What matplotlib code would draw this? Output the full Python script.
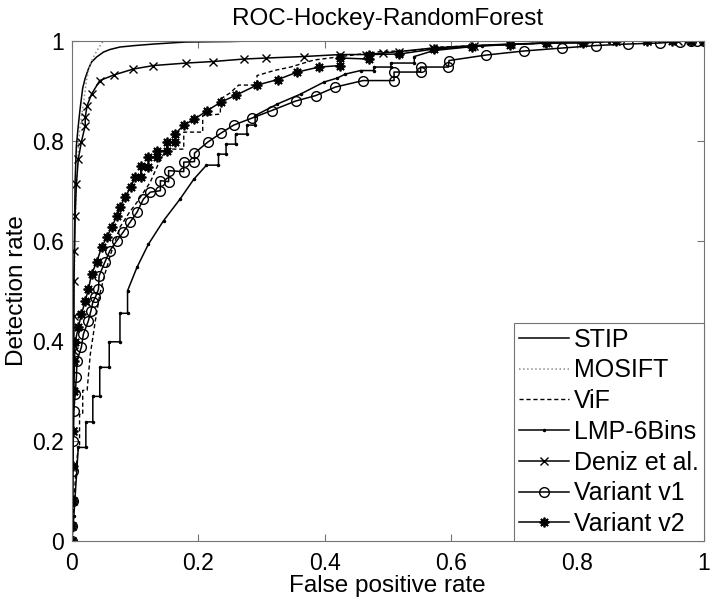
import numpy as np
import matplotlib
matplotlib.use('Agg')
import matplotlib.pyplot as plt
from matplotlib.ticker import FuncFormatter

plt.rcParams['font.family'] = ['Liberation Sans', 'DejaVu Sans']

# ROC curves (false positive rate, detection rate)
stip_fpr = [0, 0.001, 0.002, 0.003, 0.004, 0.005, 0.007, 0.010, 0.013, 0.017, 0.021, 0.026,
            0.031, 0.039, 0.050, 0.060, 0.076, 0.100, 0.130, 0.180, 0.250, 0.320, 0.400, 0.550, 0.700, 1.0]
stip_tpr = [0, 0.15, 0.35, 0.50, 0.62, 0.72, 0.79, 0.83, 0.865, 0.905, 0.925, 0.943,
            0.957, 0.967, 0.977, 0.982, 0.987, 0.990, 0.993, 0.997, 0.998, 1.0, 1.0, 1.0, 1.0, 1.0]

mosift_fpr = [0, 0.002, 0.004, 0.006, 0.009, 0.012, 0.018, 0.023, 0.028, 0.034, 0.042, 0.050, 1.0]
mosift_tpr = [0, 0.30, 0.55, 0.68, 0.76, 0.82, 0.873, 0.92, 0.95, 0.967, 0.985, 1.0, 1.0]

vif_fpr = [0, 0.003, 0.007, 0.010, 0.012, 0.012, 0.017, 0.017, 0.024, 0.029, 0.037, 0.044,
           0.052, 0.063, 0.076, 0.090, 0.103, 0.124, 0.139, 0.150, 0.177, 0.177, 0.207, 0.207,
           0.235, 0.235, 0.250, 0.264, 0.293, 0.293, 0.320, 0.346, 0.383, 0.420, 0.489, 0.542,
           0.584, 0.650, 0.750, 0.850, 1.0]
vif_tpr = [0, 0.08, 0.153, 0.187, 0.187, 0.253, 0.253, 0.301, 0.301, 0.373, 0.44, 0.493,
           0.533, 0.58, 0.627, 0.655, 0.677, 0.717, 0.76, 0.783, 0.783, 0.817, 0.817, 0.85,
           0.853, 0.883, 0.895, 0.911, 0.911, 0.93, 0.94, 0.947, 0.961, 0.967, 0.978, 0.98,
           0.987, 0.99, 0.995, 0.998, 1.0]

lmp_fpr = [0, 0.003, 0.010, 0.022, 0.022, 0.033, 0.033, 0.044, 0.044, 0.059, 0.059, 0.076,
           0.076, 0.088, 0.088, 0.103, 0.121, 0.145, 0.171, 0.193, 0.213, 0.232, 0.232, 0.244,
           0.244, 0.259, 0.259, 0.277, 0.277, 0.290, 0.290, 0.325, 0.362, 0.399, 0.420, 0.433,
           0.457, 0.478, 0.478, 0.505, 0.505, 0.542, 0.542, 0.573, 0.65, 0.75, 0.85, 0.93, 1.0]
lmp_tpr = [0, 0.05, 0.187, 0.187, 0.238, 0.238, 0.289, 0.289, 0.347, 0.347, 0.398, 0.398,
           0.455, 0.455, 0.50, 0.547, 0.593, 0.64, 0.683, 0.723, 0.751, 0.751, 0.773, 0.773,
           0.793, 0.793, 0.813, 0.813, 0.831, 0.831, 0.85, 0.873, 0.893, 0.917, 0.925, 0.933,
           0.94, 0.94, 0.947, 0.947, 0.955, 0.955, 0.968, 0.98, 0.99, 0.995, 0.998, 1.0, 1.0]

deniz_fpr = [0, 0.0, 0.001, 0.001, 0.002, 0.002, 0.003, 0.003, 0.003, 0.004, 0.005, 0.007,
             0.010, 0.015, 0.021, 0.021, 0.024, 0.031, 0.044, 0.066, 0.097, 0.129, 0.181, 0.223,
             0.272, 0.307, 0.367, 0.425, 0.465, 0.492, 0.518, 0.571, 0.637, 0.695, 0.753, 0.809,
             0.862, 0.91, 0.96, 1.0]
deniz_tpr = [0, 0.03, 0.08, 0.15, 0.22, 0.30, 0.38, 0.45, 0.52, 0.58, 0.65, 0.713,
             0.763, 0.798, 0.83, 0.847, 0.87, 0.893, 0.92, 0.931, 0.943, 0.95, 0.955, 0.958,
             0.963, 0.965, 0.968, 0.972, 0.972, 0.975, 0.978, 0.985, 0.99, 0.993, 0.995, 0.997,
             0.999, 1.0, 1.0, 1.0]

v1_fpr = [0, 0.0, 0.001, 0.001, 0.002, 0.003, 0.005, 0.007, 0.008, 0.015, 0.018, 0.026,
          0.030, 0.033, 0.037, 0.042, 0.043, 0.052, 0.060, 0.071, 0.081, 0.092, 0.103, 0.113,
          0.124, 0.140, 0.140, 0.153, 0.153, 0.177, 0.177, 0.194, 0.194, 0.215, 0.236, 0.256,
          0.285, 0.316, 0.354, 0.386, 0.417, 0.461, 0.510, 0.510, 0.552, 0.552, 0.596, 0.597,
          0.656, 0.715, 0.776, 0.830, 0.880, 0.931, 0.962, 0.980, 0.990, 1.0]
v1_tpr = [0, 0.03, 0.08, 0.14, 0.20, 0.26, 0.293, 0.327, 0.36, 0.388, 0.413, 0.44,
          0.46, 0.477, 0.487, 0.503, 0.53, 0.557, 0.58, 0.60, 0.617, 0.637, 0.657, 0.683,
          0.697, 0.70, 0.72, 0.718, 0.74, 0.738, 0.757, 0.758, 0.775, 0.797, 0.815, 0.831,
          0.845, 0.86, 0.879, 0.89, 0.907, 0.92, 0.92, 0.937, 0.937, 0.947, 0.947, 0.96,
          0.971, 0.979, 0.985, 0.99, 0.993, 0.995, 0.998, 1.0, 1.0, 1.0]

v2_fpr = [0, 0.0, 0.001, 0.001, 0.002, 0.003, 0.004, 0.005, 0.010, 0.015, 0.021, 0.026,
          0.031, 0.039, 0.047, 0.055, 0.063, 0.071, 0.076, 0.084, 0.093, 0.100, 0.109, 0.109,
          0.121, 0.121, 0.135, 0.135, 0.150, 0.150, 0.163, 0.163, 0.177, 0.194, 0.214, 0.236,
          0.260, 0.293, 0.326, 0.357, 0.391, 0.425, 0.425, 0.470, 0.470, 0.518, 0.573, 0.634,
          0.693, 0.751, 0.809, 0.862, 0.910, 0.950, 0.980, 1.0]
v2_tpr = [0, 0.03, 0.08, 0.15, 0.22, 0.30, 0.36, 0.397, 0.427, 0.453, 0.48, 0.503,
          0.533, 0.557, 0.587, 0.607, 0.627, 0.65, 0.667, 0.687, 0.707, 0.727, 0.727, 0.75,
          0.748, 0.767, 0.767, 0.78, 0.78, 0.797, 0.797, 0.813, 0.831, 0.843, 0.86, 0.877,
          0.891, 0.911, 0.922, 0.937, 0.947, 0.950, 0.965, 0.963, 0.972, 0.973, 0.983, 0.988,
          0.992, 0.995, 0.995, 0.999, 0.999, 1.0, 1.0, 1.0]

labels = ['STIP', 'MOSIFT', 'ViF', 'LMP-6Bins', 'Deniz et al.', 'Variant v1', 'Variant v2']

# MATLAB-like figure
fig = plt.figure(figsize=(7.14, 6.03), dpi=100)
ax = fig.add_axes([0.1008, 0.1028, 0.8845, 0.830])

ax.plot(stip_fpr, stip_tpr, '-', color='k', lw=1.1, label=labels[0])
ax.plot(mosift_fpr, mosift_tpr, ':', color='0.55', lw=1.1, label=labels[1])
ax.plot(vif_fpr, vif_tpr, '--', color='k', lw=1.0, dashes=(3, 2), label=labels[2])
ax.plot(lmp_fpr, lmp_tpr, '-', color='k', lw=1.1, marker='.', ms=3, label=labels[3])
ax.plot(deniz_fpr, deniz_tpr, '-', color='k', lw=1.1, marker='x', ms=5.5, mew=1.0, label=labels[4])
ax.plot(v1_fpr, v1_tpr, '-', color='k', lw=1.1, marker='o', ms=7, mfc='none', mew=1.0, label=labels[5])
ax.plot(v2_fpr, v2_tpr, '-', color='k', lw=1.1, marker=(8, 2, 0), ms=7, mew=1.3, label=labels[6])

ax.set_xlim(0, 1)
ax.set_ylim(0, 1)
ticks = [0, 0.2, 0.4, 0.6, 0.8, 1]
ax.set_xticks(ticks)
ax.set_yticks(ticks)
fmt = FuncFormatter(lambda v, p: '%g' % v)
ax.xaxis.set_major_formatter(fmt)
ax.yaxis.set_major_formatter(fmt)
ax.tick_params(direction='in', length=5, width=0.8, color='0.45', labelsize=16.5,
               top=True, right=True)
ax.tick_params(axis='x', pad=8)
ax.tick_params(axis='y', pad=6)
for s in ax.spines.values():
    s.set_color('0.45')
    s.set_linewidth(0.8)

ax.set_title('ROC-Hockey-RandomForest', fontsize=17.5, pad=11)
ax.set_xlabel('False positive rate', fontsize=17.5, labelpad=0)
ax.set_ylabel('Detection rate', fontsize=17.5, labelpad=3)

leg = ax.legend(loc='lower right', fontsize=18, borderaxespad=0, fancybox=False,
                framealpha=1, edgecolor='0.45', handlelength=2.0, handletextpad=0.2,
                labelspacing=0.27, borderpad=0.2)
leg.get_frame().set_linewidth(0.8)

plt.savefig('out.png', dpi=100)
